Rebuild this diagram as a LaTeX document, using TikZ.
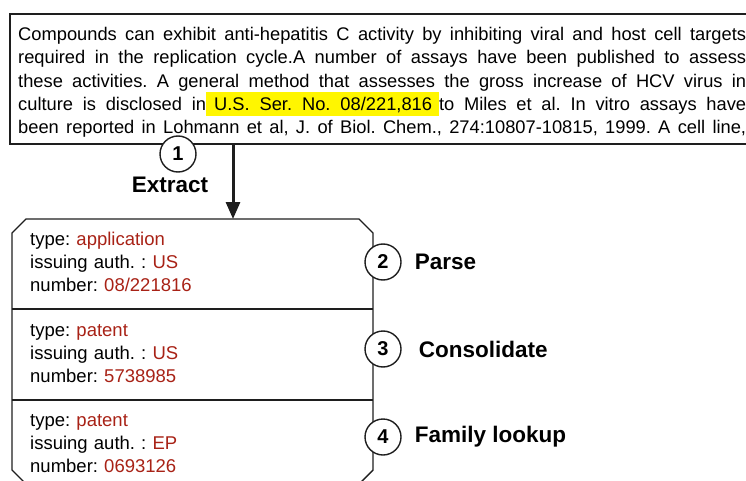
\documentclass[tikz,border=0pt]{standalone}
\usepackage{fontspec}
\setmainfont{Liberation Sans}
\frenchspacing
\definecolor{valred}{RGB}{168, 34, 22}
\definecolor{hlyellow}{RGB}{255, 246, 0}
\definecolor{inkgray}{RGB}{30, 30, 30}
\usetikzlibrary{arrows.meta, positioning}
\newcommand{\hlmark}[2]{{\setlength{\fboxsep}{0pt}\colorbox{hlyellow}{\rule[-6pt]{0pt}{24pt}\makebox[#1][s]{\kern8pt #2\kern7pt}}}}
\newcommand{\val}[1]{\textcolor{valred}{#1}}

\begin{document}
\begin{tikzpicture}[x=1pt, y=-1pt,
  passage/.style={anchor=base west, text width=728pt, align=justify, inner sep=0pt, font=\fontsize{18.3}{23.2}\selectfont},
  entry/.style={anchor=base west, text width=300pt, align=left, inner sep=0pt, font=\fontsize{18.5}{23}\selectfont},
  stepmark/.style={draw=inkgray, circle, line width=1.4pt, fill=white, minimum size=36pt, inner sep=0pt, font=\fontsize{20}{20}\selectfont\bfseries},
  steplabel/.style={inner sep=0pt, font=\fontsize{22.5}{24}\selectfont\bfseries},
  frame/.style={draw=inkgray, line width=1.4pt},
  flow/.style={draw=inkgray, line width=3pt, -{Triangle[width=14pt,length=17pt]}}
]
  \useasboundingbox (0,0) rectangle (746,481);
  \clip (0,0) rectangle (746,481);

  % source passage
  \node[draw=inkgray, line width=2pt, anchor=north west, minimum width=760pt, minimum height=130pt, inner sep=0pt] (source) at (9,13) {};
  \node[passage] (sourcetext) at (18,40.7) {\frenchspacing\tolerance=10000\hyphenpenalty=10000
    Compounds can exhibit anti-hepatitis C activity by inhibiting viral and host cell targets\linebreak
    required in the replication cycle.A number of assays have been published to assess\linebreak
    these activities. A general method that assesses the gross increase of HCV virus in\linebreak
    culture is disclosed in\hlmark{233pt}{U.S. Ser. No. 08/221,816}to Miles et al. In vitro assays have\linebreak
    been reported in Lohmann et al, J. of Biol. Chem., 274:10807-10815, 1999. A cell line,\parfillskip=0pt\par};

  % record box
  \draw[frame] (12,233) -- (26,219) -- (359,219) -- (373,233) -- (373,470) -- (359,484) -- (26,484) -- (12,470) -- cycle;
  \draw[frame] (12,309) -- (373,309);
  \draw[frame] (12,400) -- (373,400);
  \coordinate (rectop) at (233,219);
  \draw[flow] (source.south -| rectop) -- (rectop);

  \node[entry] (rec1) at (30,245) {type: \val{application}\\issuing auth. : \val{US}\\number: \val{08/221816}};
  \node[entry] (rec2) at (30,336) {type: \val{patent}\\issuing auth. : \val{US}\\number: \val{5738985}};
  \node[entry] (rec3) at (30,426) {type: \val{patent}\\issuing auth. : \val{EP}\\number: \val{0693126}};

  % steps
  \node[stepmark] (s1) at (178,154) {1};
  \node[steplabel] (l1) at (170,185) {Extract};
  \node[stepmark] (s2) at (383,262) {2};
  \node[steplabel, right=13pt of s2] (l2) {Parse};
  \node[stepmark] (s3) at (383,349) {3};
  \node[steplabel, right=17pt of s3] (l3) {Consolidate};
  \node[stepmark] (s4) at (383,437) {4};
  \node[steplabel, right=13pt of s4] (l4) {Family lookup};
\end{tikzpicture}
\end{document}
